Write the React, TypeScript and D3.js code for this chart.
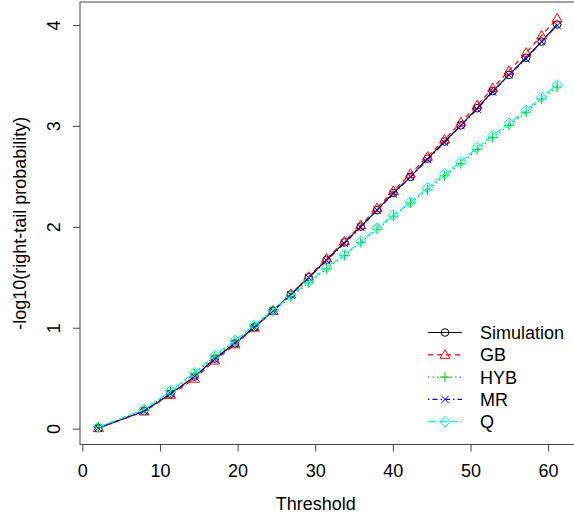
import React from "react";
import * as d3 from "d3";

// thresholds on the x axis
const thresholds = [2, 7.9, 11.3, 14.4, 17.0, 19.6, 22.1, 24.5, 26.8, 29.1, 31.4, 33.7, 35.8, 37.9, 40.0, 42.2, 44.4, 46.6, 48.7, 50.8, 52.8, 54.9, 57.1, 59.1, 61.1];

// -log10 right-tail probability per method
const simulation = [0.01, 0.18, 0.35, 0.52, 0.70, 0.85, 1.01, 1.175, 1.335, 1.505, 1.677, 1.85, 2.007, 2.17, 2.34, 2.50, 2.68, 2.85, 3.01, 3.18, 3.35, 3.51, 3.68, 3.84, 4.01];
const gb = [0.01, 0.175, 0.34, 0.50, 0.68, 0.84, 1.005, 1.17, 1.34, 1.51, 1.69, 1.86, 2.02, 2.19, 2.36, 2.53, 2.70, 2.87, 3.04, 3.21, 3.38, 3.55, 3.73, 3.90, 4.07];
const hyb = [0.02, 0.19, 0.37, 0.55, 0.72, 0.87, 1.02, 1.165, 1.31, 1.45, 1.59, 1.72, 1.85, 1.98, 2.11, 2.24, 2.37, 2.51, 2.63, 2.77, 2.89, 3.01, 3.14, 3.27, 3.39];
const mr = [0.01, 0.18, 0.35, 0.52, 0.69, 0.85, 1.01, 1.17, 1.33, 1.50, 1.67, 1.84, 2.00, 2.17, 2.33, 2.50, 2.67, 2.84, 3.01, 3.17, 3.34, 3.51, 3.67, 3.84, 4.00];
const q = [0.02, 0.195, 0.38, 0.56, 0.73, 0.88, 1.03, 1.18, 1.32, 1.46, 1.60, 1.73, 1.86, 1.99, 2.12, 2.25, 2.39, 2.53, 2.65, 2.79, 2.91, 3.03, 3.16, 3.29, 3.41];

const seriesNames = ["Simulation", "GB", "HYB", "MR", "Q"];
const xTicks = [0, 10, 20, 30, 40, 50, 60];
const yTicks = [0, 1, 2, 3, 4];

const FONT = "'Liberation Sans', Arial, sans-serif";

const styles = [
  { color: "#000000", dash: "none", shape: "circle" },
  { color: "#FF0000", dash: "5,4", shape: "triangle" },
  { color: "#00CD00", dash: "1.5,3", shape: "plus" },
  { color: "#0000FF", dash: "1.5,3,5,3", shape: "cross" },
  { color: "#00FFFF", dash: "8,3", shape: "diamond" },
];

function Marker({ shape, x, y, color }: { shape: string; x: number; y: number; color: string }) {
  const p = { fill: "none", stroke: color, strokeWidth: 1 };
  if (shape === "circle") return <circle cx={x} cy={y} r={3.8} {...p} />;
  if (shape === "triangle")
    return <path d={`M${x},${y - 5}L${x + 5},${y + 3.5}L${x - 5},${y + 3.5}Z`} {...p} />;
  if (shape === "plus")
    return <path d={`M${x - 5},${y}H${x + 5}M${x},${y - 5}V${y + 5}`} {...p} />;
  if (shape === "cross")
    return <path d={`M${x - 3.7},${y - 3.7}L${x + 3.7},${y + 3.7}M${x - 3.7},${y + 3.7}L${x + 3.7},${y - 3.7}`} {...p} />;
  return <path d={`M${x},${y - 5.3}L${x + 5.3},${y}L${x},${y + 5.3}L${x - 5.3},${y}Z`} {...p} />;
}

export default function App() {
  const width = 574;
  const height = 523;
  const all = [simulation, gb, hyb, mr, q];

  // R style 4% padding of the data range
  const xExt = d3.extent(thresholds) as [number, number];
  const yExt = [d3.min(all, (s) => d3.min(s)) as number, d3.max(all, (s) => d3.max(s)) as number];
  const xPad = (xExt[1] - xExt[0]) * 0.04;
  const yPad = (yExt[1] - yExt[0]) * 0.04;

  const left = 80, top = 2, bottom = 444.5;
  const x = d3.scaleLinear().domain([xExt[0] - xPad, xExt[1] + xPad]).range([left, 575.5]);
  const y = d3.scaleLinear().domain([yExt[0] - yPad, yExt[1] + yPad]).range([bottom, top]);

  const line = d3.line<number>()
    .x((_, i) => x(thresholds[i]))
    .y((d) => y(d));

  const legendY = [332.5, 354.8, 377.1, 399.4, 421.7];

  return (
    <svg width={width} height={height} style={{ position: "absolute", left: 0, top: 0, background: "#fff" }}
      fontFamily={FONT}>
      <rect x={0} y={0} width={width} height={height} fill="#fff" />
      {all.map((s, k) => (
        <g key={seriesNames[k]}>
          <path d={line(s) || ""} fill="none" stroke={styles[k].color} strokeWidth={1.2}
            strokeDasharray={styles[k].dash} />
          {s.map((v, i) => (
            <Marker key={i} shape={styles[k].shape} x={x(thresholds[i])} y={y(v)} color={styles[k].color} />
          ))}
        </g>
      ))}

      {/* plot box */}
      <rect x={x.range()[0]} y={top} width={x.range()[1] - x.range()[0]} height={bottom - top}
        fill="none" stroke="#444" strokeWidth={1} />

      {/* x axis */}
      {xTicks.map((t) => (
        <g key={t}>
          <line x1={x(t)} x2={x(t)} y1={bottom} y2={bottom + 7} stroke="#444" />
          <text x={x(t)} y={477} textAnchor="middle" fontSize={18} fill="#000">{t}</text>
        </g>
      ))}
      <text x={x(30)} y={510} textAnchor="middle" fontSize={18} fill="#000">Threshold</text>

      {/* y axis */}
      {yTicks.map((t) => (
        <g key={t}>
          <line x1={left - 7} x2={left} y1={y(t)} y2={y(t)} stroke="#444" />
          <text transform={`translate(60,${y(t)}) rotate(-90)`} textAnchor="middle" fontSize={18} fill="#000">{t}</text>
        </g>
      ))}
      <text transform={`translate(26,${(top + bottom) / 2}) rotate(-90)`} textAnchor="middle" fontSize={18}
        fill="#000">-log10(right-tail probability)</text>

      {/* legend */}
      {seriesNames.map((name, k) => (
        <g key={name}>
          <line x1={428} x2={462} y1={legendY[k]} y2={legendY[k]} stroke={styles[k].color} strokeWidth={1.2}
            strokeDasharray={styles[k].dash} />
          <Marker shape={styles[k].shape} x={445} y={legendY[k]} color={styles[k].color} />
          <text x={480} y={legendY[k] + 6.5} fontSize={18} fill="#000">{name}</text>
        </g>
      ))}
    </svg>
  );
}
